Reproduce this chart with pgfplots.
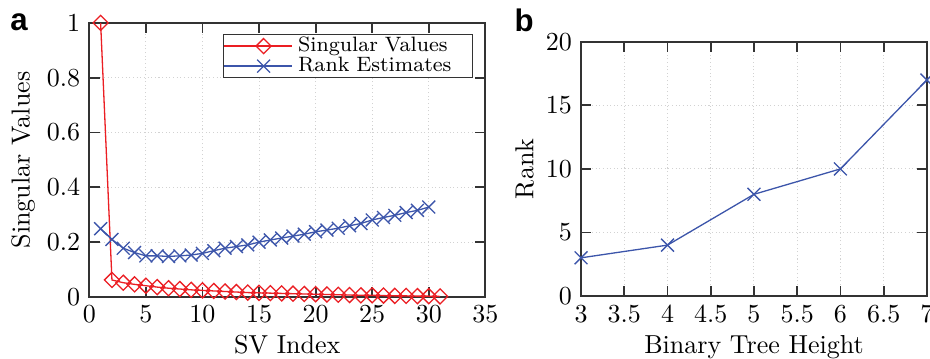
\documentclass[border=0pt]{standalone}
\usepackage{pgfplots}
\pgfplotsset{compat=1.18}
\usepackage{fontspec}
\newfontfamily\labelfont{Liberation Sans}
\definecolor{myred}{RGB}{235,30,35}
\definecolor{myblue}{RGB}{60,85,170}
\pgfplotsset{
  every axis/.append style={
    scale only axis,
    axis line style={black!80, line width=0.7pt},
    major tick style={black!80, line width=0.7pt},
    major tick length=0.14cm,
    tick align=inside,
    grid=major,
    major grid style={densely dotted, gray!35, line width=0.4pt},
    tick label style={font=\normalsize},
    xlabel style={yshift=2pt},
    ylabel style={yshift=-2.3pt},
  }
}
\pgfplotstableread{
x y
1 1.000
2 0.062
3 0.052
4 0.046
5 0.041
6 0.036
7 0.032
8 0.029
9 0.026
10 0.024
11 0.022
12 0.020
13 0.018
14 0.016
15 0.015
16 0.014
17 0.013
18 0.012
19 0.011
20 0.010
21 0.009
22 0.008
23 0.007
24 0.006
25 0.006
26 0.005
27 0.004
28 0.004
29 0.003
30 0.003
31 0.002
}\svtable
\pgfplotstableread{
x y
1 0.249
2 0.210
3 0.178
4 0.162
5 0.150
6 0.150
7 0.148
8 0.150
9 0.153
10 0.159
11 0.169
12 0.178
13 0.184
14 0.190
15 0.200
16 0.208
17 0.215
18 0.222
19 0.229
20 0.238
21 0.244
22 0.251
23 0.260
24 0.268
25 0.281
26 0.290
27 0.298
28 0.308
29 0.316
30 0.328
}\ranktable
\pgfplotstableread{
x y
3 3
4 4
5 8
6 10
7 17
}\treetable
\begin{document}
\begin{tikzpicture}
\begin{axis}[
  at={(0pt,0pt)}, anchor=south west,
  width=152.3pt, height=105.4pt,
  xmin=0, xmax=35, ymin=0, ymax=1,
  xtick={0,5,...,35}, ytick={0,0.2,0.4,0.6,0.8,1},
  yticklabels={0,0.2,0.4,0.6,0.8,1},
  xlabel={SV Index}, ylabel={Singular Values},
  clip=false,
  legend style={at={(rel axis cs:0.969,0.96)}, anchor=north east,
    font=\footnotesize, draw=black!80, line width=0.5pt,
    inner xsep=0pt, inner ysep=0.6pt, row sep=0pt,
    nodes={inner sep=0pt, text height=5.8pt, text depth=1.9pt},
    /tikz/every odd column/.append style={column sep=2.3pt},
    /tikz/every even column/.append style={text width=67pt}},
  legend cell align=left,
  legend image code/.code={\path (-4.3pt,0pt) -- (0pt,0pt);\draw[mark repeat=2,mark phase=2] plot coordinates {(0pt,0pt)(10.75pt,0pt)(21.5pt,0pt)};},
]
\addplot[myred, line width=0.5pt, mark=square, mark size=2.05pt, mark options={rotate=45, solid}] table {\svtable};
\addlegendentry{Singular Values}
\addplot[myblue, line width=0.5pt, mark=x, mark size=3.5pt, mark options={solid}] table {\ranktable};
\addlegendentry{Rank Estimates}
\end{axis}
\begin{axis}[
  at={(189.1pt,0.4pt)}, anchor=south west,
  width=133pt, height=97.7pt,
  xmin=3, xmax=7, ymin=0, ymax=20,
  xtick={3,3.5,...,7}, ytick={0,5,...,20},
  xticklabels={3,3.5,4,4.5,5,5.5,6,6.5,7},
  xlabel={Binary Tree Height}, ylabel={Rank},
  clip=false,
]
\addplot[myblue, line width=0.5pt, mark=x, mark size=3.5pt, mark options={solid}] table {\treetable};
\end{axis}
\node[font=\labelfont\bfseries\fontsize{12}{14}\selectfont] at (-27pt,105.8pt) {a};
\node[font=\labelfont\bfseries\fontsize{12}{14}\selectfont] at (167.2pt,106.5pt) {b};
\pgfresetboundingbox
\path (-34.35pt,-23.5pt) rectangle (323.3pt,114.2pt);
\end{tikzpicture}
\end{document}
